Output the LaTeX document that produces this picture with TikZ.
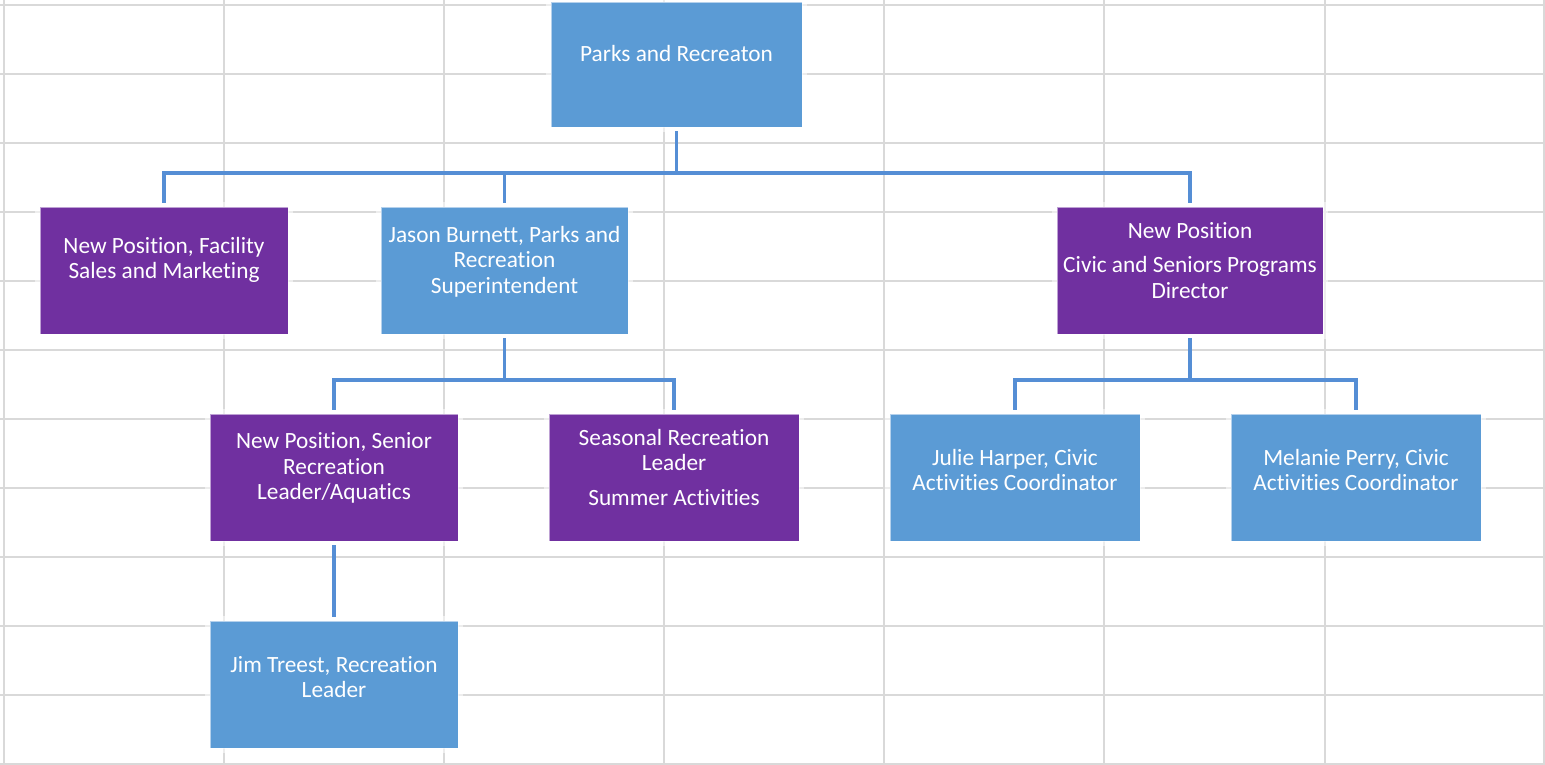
\documentclass[tikz,border=0pt]{standalone}
\usepackage{fontspec}
\setmainfont{Carlito}[Ligatures={NoCommon}]
\usetikzlibrary{calc}
\definecolor{boxblue}{HTML}{5B9BD5}
\definecolor{boxpurple}{HTML}{7030A0}
\definecolor{connblue}{HTML}{558ED5}
\definecolor{gridgray}{HTML}{D9D9D9}
\tikzset{
  orgbox/.style={rectangle, inner sep=0pt, minimum height=127pt,
    preaction={draw=white, line width=10pt},
    draw=white, draw opacity=0.55, line width=0.8pt},
  bluebox/.style={orgbox, fill=boxblue},
  purplebox/.style={orgbox, fill=boxpurple},
  lbl/.style={inner sep=0pt, align=center, text=white,
    font=\fontsize{23.3}{25.5}\selectfont},
  conn/.style={draw=connblue, line width=3.6pt, shorten <=4pt, shorten >=4pt},
  gridline/.style={draw=gridgray, line width=1.8pt}
}
\begin{document}
\begin{tikzpicture}[x=1pt, y=-1pt]
\useasboundingbox (0,0) rectangle (1545,765);
\fill[white] (0,0) rectangle (1545,765);
% spreadsheet grid
\foreach \gx in {4,224,444,664,884,1104,1325,1544}
  \draw[gridline] (\gx,0) -- (\gx,765);
\foreach \gy in {5,74,143,212,281,350,419,488,557,626,695,764}
  \draw[gridline] (0,\gy) -- (1545,\gy);
% boxes
\node[bluebox, minimum width=251pt, minimum height=125pt] (parks) at (676.5,64.5) {};
\node[purplebox, minimum width=248pt] (fac) at (164,270.5) {};
\node[bluebox, minimum width=247pt] (jason) at (504.5,270.5) {};
\node[purplebox, minimum width=266pt] (civic) at (1190,270.5) {};
\node[purplebox, minimum width=248pt] (senior) at (334,477.5) {};
\node[purplebox, minimum width=250pt] (seasonal) at (674,477.5) {};
\node[bluebox, minimum width=250pt] (julie) at (1015,477.5) {};
\node[bluebox, minimum width=250pt] (melanie) at (1356,477.5) {};
\node[bluebox, minimum width=248pt] (jim) at (334,684.5) {};
% labels
\node[lbl] (parks-t) at ([yshift=11.5pt]parks.center) {Parks and Recreaton};
\node[lbl] (fac-t) at ([yshift=10.5pt]fac.center) {New Position, Facility\\Sales and Marketing};
\node[lbl] (jason-t) at ([yshift=9pt]jason.center) {Jason Burnett, Parks and\\Recreation\\Superintendent};
\node[lbl] (civic-t) at ([yshift=10pt]civic.center) {New Position\\[9pt]Civic and Seniors Programs\\Director};
\node[lbl] (senior-t) at ([yshift=9.5pt]senior.center) {New Position, Senior\\Recreation\\Leader/Aquatics};
\node[lbl] (seasonal-t) at ([yshift=10.5pt]seasonal.center) {Seasonal Recreation\\Leader\\[9pt]Summer Activities};
\node[lbl] (julie-t) at ([yshift=7.5pt]julie.center) {Julie Harper, Civic\\Activities Coordinator};
\node[lbl] (melanie-t) at ([yshift=7.5pt]melanie.center) {Melanie Perry, Civic\\Activities Coordinator};
\node[lbl] (jim-t) at ([yshift=7.5pt]jim.center) {Jim Treest, Recreation\\Leader};
% bus coordinates
\coordinate (bus1) at (0,173);
\coordinate (bus2) at (0,380);
% connectors
\draw[conn] (parks.south) |- (fac.north |- bus1) -- (fac.north);
\draw[conn] (parks.south) |- (jason.north |- bus1) -- (jason.north);
\draw[conn] (parks.south) |- (civic.north |- bus1) -- (civic.north);
\draw[conn] (jason.south) |- (senior.north |- bus2) -- (senior.north);
\draw[conn] (jason.south) |- (seasonal.north |- bus2) -- (seasonal.north);
\draw[conn] (civic.south) |- (julie.north |- bus2) -- (julie.north);
\draw[conn] (civic.south) |- (melanie.north |- bus2) -- (melanie.north);
\draw[conn] (senior.south) -- (jim.north);
\end{tikzpicture}
\end{document}
